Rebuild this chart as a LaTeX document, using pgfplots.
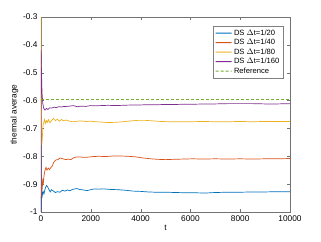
\documentclass[border=0pt]{standalone}
\usepackage{pgfplots}
\pgfplotsset{compat=1.18}
\usepackage{fontspec}
\setmainfont{Liberation Sans}
\definecolor{mblue}{rgb}{0,0.447,0.741}
\definecolor{morange}{rgb}{0.85,0.325,0.098}
\definecolor{myellow}{rgb}{0.929,0.694,0.125}
\definecolor{mpurple}{rgb}{0.494,0.184,0.556}
\definecolor{mgreen}{rgb}{0.466,0.674,0.188}
\begin{document}
\begin{tikzpicture}[x=1pt,y=1pt]
\useasboundingbox (-41,-29) rectangle (280,212);
\begin{axis}[
  at={(0,0)}, anchor=south west,
  width=249pt, height=195pt, scale only axis,
  xmin=0, xmax=10000, ymin=-1, ymax=-0.3,
  xtick={0,2000,4000,6000,8000,10000},
  ytick={-1,-0.9,-0.8,-0.7,-0.6,-0.5,-0.4,-0.3},
  yticklabels={-1,-0.9,-0.8,-0.7,-0.6,-0.5,-0.4,-0.3},
  scaled x ticks=false,
  /pgf/number format/1000 sep={},
  /pgf/number format/assume math mode=true,
  tick align=inside, major tick length=3pt,
  axis line style={draw=black!55},
  major tick style={draw=black!55},
  tick label style={font=\fontsize{8.3}{10}\selectfont},
  label style={font=\fontsize{8.3}{10}\selectfont},
  xlabel={t}, ylabel={thermal average},
  xlabel style={yshift=3pt},
  ylabel style={yshift=-2pt},
  legend style={at={(rel axis cs:0.972,0.954)}, anchor=north east,
    font=\fontsize{7.6}{9}\selectfont, draw=black!50,
    row sep=-1.5pt, inner sep=1.5pt},
  legend cell align=left,
  legend image code/.code={\draw[#1, line width=1pt] (0pt,0pt) -- (8pt,0.05pt) -- (16pt,0pt);},
  every axis plot/.append style={line width=0.7pt},
]
\addplot[draw=mblue] coordinates {
(0,-1.0) (10,-0.95) (30,-0.93) (50,-0.942) (80,-0.925) (120,-0.935) (170,-0.915) (220,-0.905) (270,-0.91) (320,-0.92) (370,-0.928) (420,-0.92) (500,-0.925) (580,-0.93) (660,-0.927) (760,-0.929) (860,-0.922) (960,-0.925) (1060,-0.921) (1160,-0.924) (1260,-0.919) (1360,-0.917) (1450,-0.916) (1550,-0.919) (1700,-0.921) (1850,-0.923) (2000,-0.92) (2150,-0.917) (2300,-0.918) (2500,-0.917) (2800,-0.919) (3100,-0.92) (3400,-0.922) (3700,-0.925) (4000,-0.926) (4300,-0.928) (4600,-0.929) (5000,-0.929) (5400,-0.93) (5800,-0.931) (6200,-0.931) (6600,-0.932) (7000,-0.93) (7500,-0.929) (8000,-0.929) (8500,-0.928) (9000,-0.928) (9500,-0.927) (10000,-0.927)
};
\addlegendentry{DS $\Delta$t=1/20}
\addplot[draw=morange] coordinates {
(0,-0.95) (15,-0.94) (30,-0.9) (50,-0.92) (70,-0.88) (90,-0.9) (120,-0.87) (160,-0.85) (200,-0.84) (240,-0.85) (290,-0.842) (340,-0.848) (400,-0.84) (450,-0.835) (520,-0.82) (600,-0.813) (680,-0.812) (760,-0.806) (840,-0.808) (920,-0.81) (1000,-0.812) (1100,-0.81) (1200,-0.812) (1300,-0.806) (1400,-0.803) (1550,-0.802) (1700,-0.804) (1900,-0.803) (2100,-0.801) (2300,-0.8) (2600,-0.801) (2900,-0.799) (3200,-0.799) (3500,-0.8) (3800,-0.802) (4100,-0.806) (4400,-0.809) (4700,-0.811) (5000,-0.812) (5300,-0.811) (5700,-0.81) (6100,-0.809) (6500,-0.81) (7000,-0.809) (7500,-0.81) (8000,-0.809) (8500,-0.81) (9000,-0.809) (9500,-0.809) (10000,-0.808)
};
\addlegendentry{DS $\Delta$t=1/40}
\addplot[draw=myellow] coordinates {
(0,-0.3) (5,-0.45) (15,-0.62) (30,-0.76) (50,-0.74) (80,-0.69) (110,-0.68) (140,-0.668) (180,-0.682) (220,-0.672) (260,-0.678) (300,-0.668) (360,-0.68) (420,-0.672) (500,-0.664) (580,-0.672) (660,-0.667) (740,-0.674) (820,-0.668) (900,-0.672) (1000,-0.67) (1150,-0.674) (1300,-0.676) (1450,-0.674) (1600,-0.673) (1800,-0.675) (2000,-0.674) (2200,-0.676) (2400,-0.677) (2700,-0.679) (3000,-0.678) (3300,-0.676) (3600,-0.673) (3900,-0.671) (4200,-0.671) (4500,-0.673) (4800,-0.675) (5200,-0.676) (5600,-0.676) (6000,-0.676) (6500,-0.675) (7000,-0.676) (7500,-0.676) (8000,-0.675) (8500,-0.676) (9000,-0.675) (9500,-0.675) (10000,-0.675)
};
\addlegendentry{DS $\Delta$t=1/80}
\addplot[draw=mpurple] coordinates {
(0,-1.0) (3,-0.42) (20,-0.5) (40,-0.57) (70,-0.61) (110,-0.628) (160,-0.634) (220,-0.628) (280,-0.632) (350,-0.626) (430,-0.627) (520,-0.624) (620,-0.625) (720,-0.622) (820,-0.623) (920,-0.621) (1020,-0.621) (1150,-0.62) (1300,-0.618) (1450,-0.622) (1600,-0.62) (1800,-0.621) (2000,-0.618) (2200,-0.619) (2400,-0.618) (2700,-0.617) (3000,-0.618) (3300,-0.617) (3600,-0.616) (3900,-0.616) (4200,-0.615) (4600,-0.615) (5000,-0.614) (5400,-0.614) (5800,-0.613) (6200,-0.613) (6600,-0.612) (7000,-0.612) (7500,-0.611) (8000,-0.611) (8500,-0.611) (9000,-0.612) (9500,-0.612) (10000,-0.611)
};
\addlegendentry{DS $\Delta$t=1/160}
\addplot[draw=mgreen, dash pattern=on 3pt off 2pt, line width=0.9pt] coordinates {(0,-0.595) (10000,-0.595)};
\addlegendentry{Reference}
\end{axis}
\end{tikzpicture}
\end{document}
